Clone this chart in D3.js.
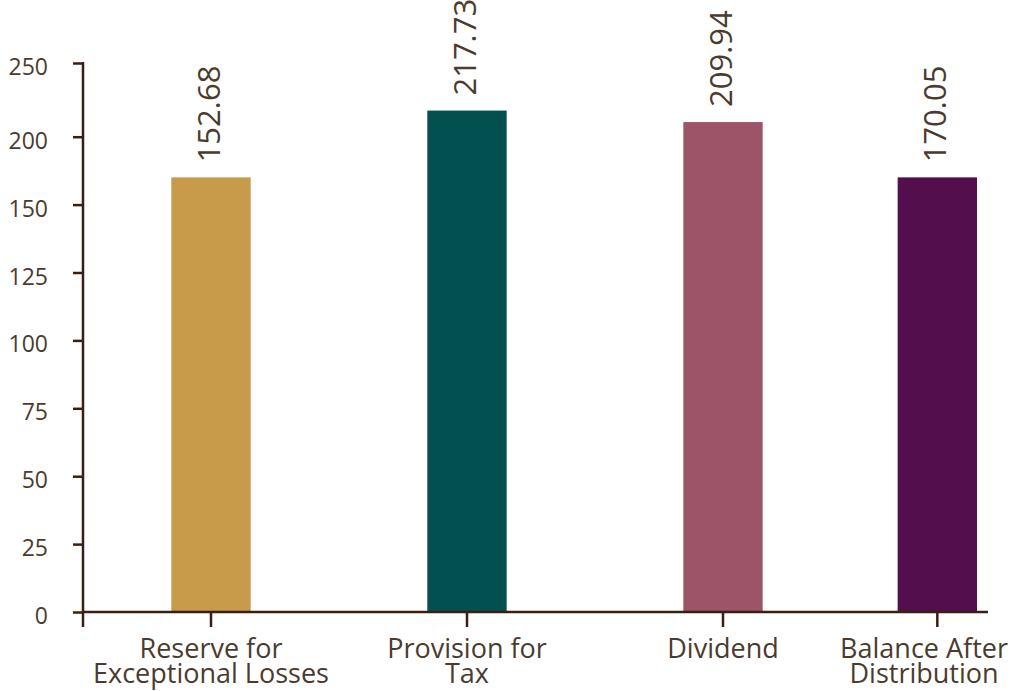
<!DOCTYPE html>
<html>
<head>
<meta charset="utf-8">
<style>
  body { margin: 0; background: #fff; }
  svg { display: block; }
  .chart text { font-family: "Open Sans", sans-serif; fill: #4b3b2f; }
  .chart .axis line, .chart .axis-line { stroke: #3b1e12; stroke-width: 2.5; }
  .chart .axis path { display: none; }
</style>
</head>
<body>
<svg class="chart" width="1016" height="691"></svg>
<script src="https://d3js.org/d3.v7.min.js"></script>
<script>
// data
var categories = ["Reserve for Exceptional Losses", "Provision for Tax", "Dividend", "Balance After Distribution"];
var categoryLines = [["Reserve for", "Exceptional Losses"], ["Provision for", "Tax"], ["Dividend"], ["Balance After", "Distribution"]];
var valueLabels = [152.68, 217.73, 209.94, 170.05];
// heights the bars are actually drawn at in the source (first bar is as tall as the last one)
var barValues = [170.05, 217.73, 209.94, 170.05];
var yTickValues = [0, 25, 50, 75, 100, 125, 150, 200, 250];
var barColors = ["#c89b4b", "#02504f", "#9d5469", "#530f4d"];

var chartWidth = 1016;
var plotLeft = 83, plotBottom = 612, plotTop = 63, plotRight = 988;
var tickStep = 67.9;
var step = 256;

var svg = d3.select('.chart');

// ticks sit at even steps up to 200, the 250 tick at the top of the axis
var yRange = yTickValues.map(function(d, i) {
    return i === yTickValues.length - 1 ? plotTop : plotBottom - i * tickStep;
});
var y = d3.scaleLinear().domain(yTickValues).range(yRange);

var x = d3.scaleBand()
    .domain(categories)
    .range([plotLeft, plotLeft + step * categories.length])
    .paddingInner(0.69)
    .paddingOuter(0.345);
var bw = x.bandwidth();

// last bar gets pushed back inside the plot
function barX(c) { return Math.min(x(c), plotRight - 11 - bw); }
function barCenter(c) { return barX(c) + bw / 2; }

// bars
svg.selectAll('rect.bar')
    .data(categories)
    .enter()
    .append('rect')
    .attr('class', 'bar')
    .attr('x', function(d) { return barX(d); })
    .attr('width', bw)
    .attr('y', function(d, i) { return y(barValues[i]); })
    .attr('height', function(d, i) { return y(0) - y(barValues[i]); })
    .style('fill', function(d, i) { return barColors[i]; });

// value labels, rotated
svg.selectAll('text.value')
    .data(categories)
    .enter()
    .append('text')
    .attr('class', 'value')
    .attr('transform', function(d, i) {
        return 'translate(' + (barCenter(d) - 2) + ',' + (y(barValues[i]) - 15) + ') rotate(-90)';
    })
    .attr('dy', '0.36em')
    .style('font-size', '31px')
    .text(function(d, i) { return d3.format('.2f')(valueLabels[i]); });

// y axis
var yAxis = svg.append('g')
    .attr('class', 'axis')
    .attr('transform', 'translate(' + plotLeft + ',0)')
    .call(d3.axisLeft(y).tickValues(yTickValues).tickSize(10).tickPadding(25).tickFormat(d3.format('d')));
yAxis.selectAll('text')
    .attr('dy', '0.5em')
    .style('font-size', '23px');

svg.append('line')
    .attr('class', 'axis-line')
    .attr('x1', plotLeft).attr('x2', plotLeft)
    .attr('y1', y(250) - 1).attr('y2', y(0) + 15);

// x axis
svg.append('line')
    .attr('class', 'axis-line')
    .attr('x1', plotLeft).attr('x2', plotRight)
    .attr('y1', y(0)).attr('y2', y(0));

svg.selectAll('line.xtick')
    .data(categories)
    .enter()
    .append('line')
    .attr('class', 'axis-line xtick')
    .attr('x1', barCenter).attr('x2', barCenter)
    .attr('y1', y(0)).attr('y2', y(0) + 15);

var catLabels = svg.selectAll('text.cat')
    .data(categories)
    .enter()
    .append('text')
    .attr('class', 'cat')
    .attr('text-anchor', 'middle')
    .style('font-size', '27px')
    .attr('x', barCenter)
    .attr('y', y(0) + 46);

catLabels.each(function(d, i) {
    var t = d3.select(this);
    categoryLines[i].forEach(function(line, j) {
        t.append('tspan')
            .attr('x', barCenter(d))
            .attr('dy', j === 0 ? 0 : 25)
            .text(line);
    });
    // keep the label inside the picture
    var box = this.getBBox();
    var over = box.x + box.width - (chartWidth - 8);
    if (over > 0) {
        t.selectAll('tspan').attr('x', barCenter(d) - over);
    }
});
</script>
</body>
</html>
